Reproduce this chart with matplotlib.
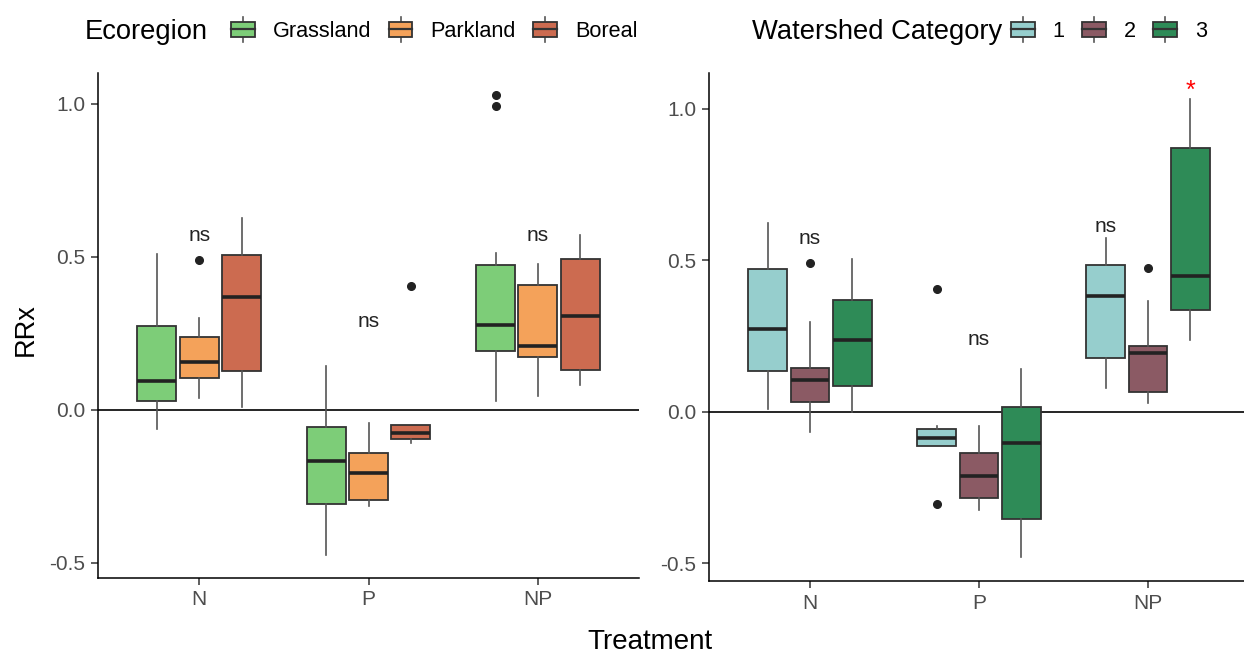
import matplotlib
matplotlib.use("Agg")
import matplotlib.pyplot as plt
from matplotlib.legend_handler import HandlerBase
from matplotlib.patches import Patch, Rectangle
from matplotlib.lines import Line2D

plt.rcParams["font.family"] = ["Liberation Sans", "DejaVu Sans"]
plt.rcParams["axes.unicode_minus"] = False

treatments = ["N", "P", "NP"]

# Ecoregion (left panel): per group a list of (whislo, q1, med, q3, whishi, fliers) per treatment
eco_names = ["Grassland", "Parkland", "Boreal"]
eco_colors = ["#7DCD78", "#F4A25A", "#CC6B50"]
eco_stats = {
    "Grassland": [(-0.063, 0.030, 0.093, 0.275, 0.510, []),
                  (-0.474, -0.306, -0.167, -0.057, 0.142, []),
                  (0.029, 0.191, 0.278, 0.474, 0.512, [0.991, 1.028])],
    "Parkland": [(0.038, 0.104, 0.157, 0.239, 0.300, [0.491]),
                 (-0.314, -0.293, -0.207, -0.142, -0.044, []),
                 (0.044, 0.174, 0.207, 0.408, 0.476, [])],
    "Boreal": [(0.011, 0.127, 0.369, 0.505, 0.626, []),
               (-0.109, -0.095, -0.074, -0.048, -0.048, [0.405]),
               (0.082, 0.131, 0.305, 0.492, 0.572, [])],
}
eco_ns_y = [0.57, 0.289, 0.569]

# Watershed category (right panel)
ws_names = ["1", "2", "3"]
ws_colors = ["#96CECD", "#8B5A64", "#2E8B57"]
ws_stats = {
    "1": [(0.009, 0.134, 0.273, 0.471, 0.625, []),
          (-0.112, -0.112, -0.085, -0.056, -0.045, [0.406, -0.304]),
          (0.078, 0.177, 0.384, 0.485, 0.575, [])],
    "2": [(-0.065, 0.033, 0.106, 0.144, 0.298, [0.491]),
          (-0.323, -0.285, -0.213, -0.136, -0.045, []),
          (0.029, 0.065, 0.194, 0.216, 0.366, [0.475])],
    "3": [(0.0, 0.084, 0.237, 0.370, 0.504, []),
          (-0.478, -0.354, -0.101, 0.017, 0.141, []),
          (0.238, 0.337, 0.447, 0.870, 1.032, [])],
}
# (treatment index, group index, y) for the "ns" labels and the star
ws_ns = [(0, 1, 0.573), (1, 1, 0.238), (2, 0, 0.612)]
ws_star = (2, 2, 1.06)

EDGE = "#333333"
OFFSETS = [-0.25, 0.0, 0.25]


def draw_panel(ax, names, colors, stats):
    for g, (name, col) in enumerate(zip(names, colors)):
        bstats = []
        for t, (lo, q1, med, q3, hi, fl) in enumerate(stats[name]):
            bstats.append(dict(whislo=lo, q1=q1, med=med, q3=q3, whishi=hi, fliers=fl))
        pos = [t + 1 + OFFSETS[g] for t in range(len(treatments))]
        ax.bxp(bstats, positions=pos, widths=0.23, patch_artist=True,
               showcaps=False, manage_ticks=False,
               boxprops=dict(facecolor=col, edgecolor=EDGE, linewidth=1.3),
               medianprops=dict(color="#222222", linewidth=2.6),
               whiskerprops=dict(color="#555555", linewidth=1.2),
               flierprops=dict(marker="o", markerfacecolor="#222222",
                               markeredgecolor="#222222", markersize=5.5))
    ax.axhline(0, color="black", linewidth=1.2, zorder=1)
    ax.set_xlim(0.4, 3.6)
    ax.set_xticks([1, 2, 3])
    ax.set_xticklabels(treatments)
    ax.set_yticks([-0.5, 0.0, 0.5, 1.0])
    ax.set_yticklabels(["-0.5", "0.0", "0.5", "1.0"])
    for s in ["top", "right"]:
        ax.spines[s].set_visible(False)
    for s in ["left", "bottom"]:
        ax.spines[s].set_linewidth(1.1)
        ax.spines[s].set_color("black")
    ax.tick_params(labelsize=15, labelcolor="#4D4D4D", color="#333333",
                   length=5, width=1.1, pad=4)


class BoxKey(HandlerBase):
    def create_artists(self, legend, orig_handle, xdescent, ydescent,
                       width, height, fontsize, trans):
        x0, y0 = -xdescent, -ydescent
        bh = height * 0.6
        by = y0 + (height - bh) / 2
        cx = x0 + width / 2
        wl = Line2D([cx, cx], [y0, y0 + height], color="#555555", lw=1.2, transform=trans)
        box = Rectangle((x0, by), width, bh, facecolor=orig_handle.get_facecolor(),
                        edgecolor=EDGE, lw=1.3, transform=trans)
        med = Line2D([x0, x0 + width], [by + bh / 2] * 2, color="#333333", lw=1.6,
                     transform=trans)
        return [wl, box, med]


fig = plt.figure(figsize=(12.44, 6.56), dpi=100)
ax1 = fig.add_axes([0.0785, 0.119, 0.4355, 0.770])
ax2 = fig.add_axes([0.5696, 0.1143, 0.4347, 0.7747])

draw_panel(ax1, eco_names, eco_colors, eco_stats)
ax1.set_ylim(-0.549, 1.101)
for t, y in enumerate(eco_ns_y):
    ax1.text(t + 1, y, "ns", ha="center", va="center", fontsize=15, color="#222222")

draw_panel(ax2, ws_names, ws_colors, ws_stats)
ax2.set_ylim(-0.558, 1.119)
for t, g, y in ws_ns:
    ax2.text(t + 1 + OFFSETS[g], y, "ns", ha="center", va="center", fontsize=15,
             color="#222222")
t, g, y = ws_star
ax2.text(t + 1 + OFFSETS[g], y, "*", ha="center", va="center", fontsize=18,
         color="red")

fig.text(0.021, 0.497, "RRx", rotation=90, ha="center", va="center", fontsize=19.5)
fig.text(0.5225, 0.021, "Treatment", ha="center", va="center", fontsize=20)

legend_kw = dict(loc="center left", frameon=False, borderpad=0, borderaxespad=0,
                 handlelength=1.1, handleheight=1.35, handletextpad=0.83,
                 columnspacing=0.8, fontsize=15.6, handler_map={Patch: BoxKey()})

fig.text(85 / 1244, 0.9405, "Ecoregion", ha="left", va="baseline", fontsize=19.7)
fig.legend(handles=[Patch(facecolor=c, label=n) for n, c in zip(eco_names, eco_colors)],
           ncol=3, bbox_to_anchor=(231 / 1244, 0.955), **legend_kw)

fig.text(752 / 1244, 0.9405, "Watershed Category", ha="left", va="baseline", fontsize=19.7)
fig.legend(handles=[Patch(facecolor=c, label=n) for n, c in zip(ws_names, ws_colors)],
           ncol=3, bbox_to_anchor=(1011 / 1244, 0.955), **legend_kw)

fig.savefig("out.png", dpi=100)
